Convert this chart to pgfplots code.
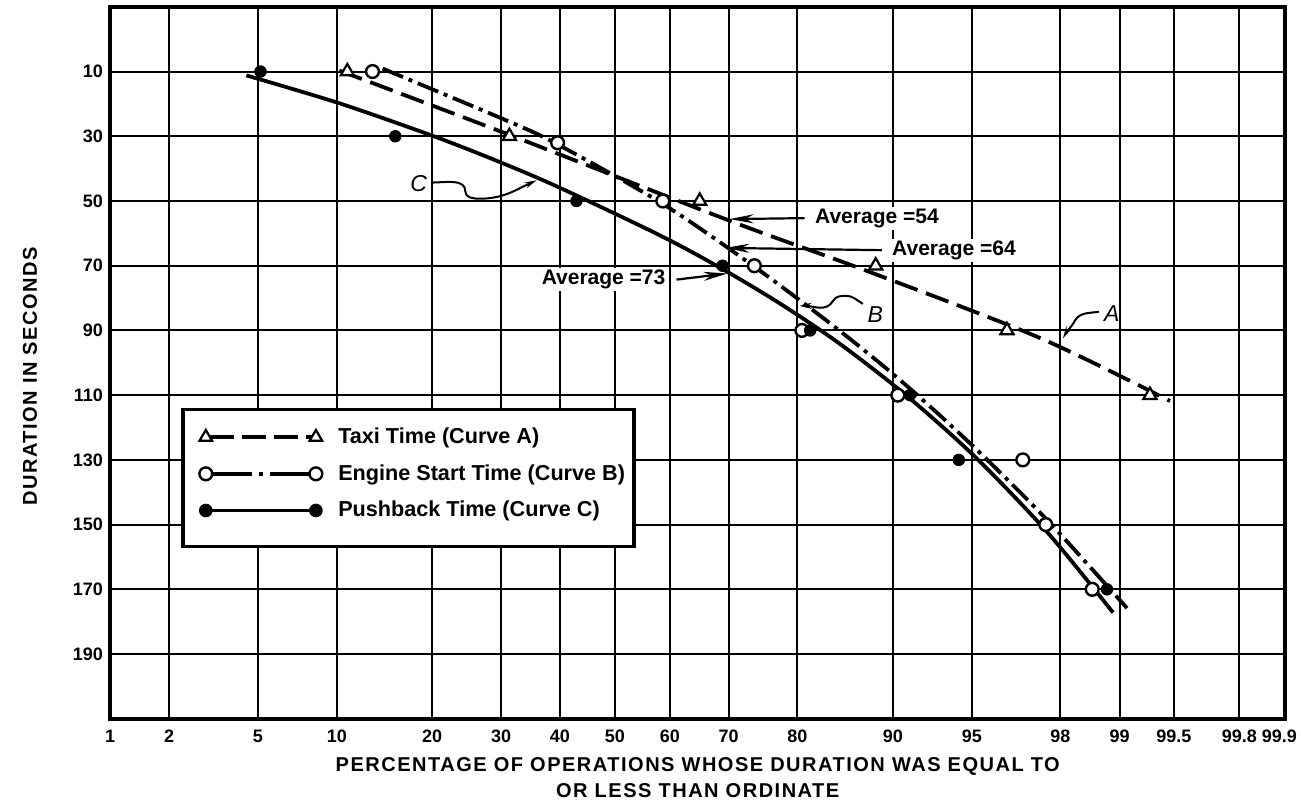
\documentclass[border=0pt]{standalone}
\usepackage{fontspec}
\setmainfont{Liberation Sans}
\newfontfamily\spaced[LetterSpace=7.5]{Liberation Sans}
\usepackage{pgfplots}
\pgfplotsset{compat=1.18}
\usetikzlibrary{arrows.meta}

% x values are normal-probability (probit) positions of the percentages:
% 1% = -2.3263, 50% = 0, 99.9% = 3.0902
\begin{document}
\begin{tikzpicture}
\useasboundingbox (-55pt,-46pt) rectangle (595pt,359.1pt);
\begin{axis}[
  at={(0,0)}, anchor=south west,
  scale only axis, width=587.2pt, height=355.7pt,
  xmin=-2.3263, xmax=3.0902,
  ymin=-10, ymax=210, y dir=reverse,
  xtick={-2.3263,-2.0537,-1.6449,-1.2816,-0.8416,-0.5244,-0.2533,0,0.2533,0.5244,0.8416,1.2816,1.6449,2.0537,2.3263,2.5758,2.8782},
  xticklabels={1,2,5,10,20,30,40,50,60,70,80,90,95,98,99,99.5,99.8},
  extra x ticks={3.0902},
  extra x tick labels={99.9},
  extra x tick style={xticklabel style={xshift=-3pt}},
  ytick={10,30,...,190},
  grid=major,
  major grid style={black, line width=1pt},
  axis line style={line width=2pt},
  major tick length=0pt,
  /pgf/number format/assume math mode=true,
  tick label style={font=\bfseries\fontsize{9}{10}\selectfont},
  xticklabel style={yshift=-2pt},
  xlabel={PERCENTAGE OF OPERATIONS WHOSE DURATION WAS EQUAL TO\\OR LESS THAN ORDINATE},
  xlabel style={at={(axis description cs:0.5,-0.083)}, anchor=center, align=center, font=\spaced\bfseries\fontsize{10}{13}\selectfont},
  ylabel={DURATION IN SECONDS},
  ylabel style={at={(axis description cs:-0.0681,0.481)}, anchor=center, font=\spaced\bfseries\fontsize{10}{13}\selectfont},
  legend style={at={(axis description cs:0.0605,0.4372)}, anchor=north west,
    draw=black, line width=1.8pt, fill=white,
    inner xsep=3.5pt, inner ysep=5pt, row sep=5pt,
    nodes={inner xsep=1pt, inner ysep=2pt},
    font=\bfseries\fontsize{10.8}{13}\selectfont,
    cells={anchor=west},
    /tikz/every odd column/.append style={column sep=7pt}},
]
% ---- curves ----
% Curve A (taxi time)
\addplot[forget plot, line width=1.9pt, dash pattern=on 12pt off 4.5pt, smooth] coordinates {
 (-1.270,9.7) (-0.500,29.2) (0.529,56.1) (1.161,71.6) (1.958,92.3) (2.558,111.8)};
% Curve B (engine start time)
\addplot[forget plot, line width=1.9pt, dash pattern=on 11pt off 3pt on 2pt off 3pt, smooth] coordinates {
 (-1.070,9.1) (-0.500,25.1) (-0.264,32.5) (0.221,50.9) (0.643,70.3) (1.036,90.1) (1.345,107.1) (1.659,126.3) (1.991,148.5) (2.360,175.8)};
% Curve C (pushback time)
\addplot[forget plot, line width=1.9pt, smooth] coordinates {
 (-1.698,11.2) (-1.270,19.8) (-0.822,30.3) (-0.500,38.8) (-0.241,46.3) (0.207,60.6) (0.482,70.5) (0.759,81.6) (1.036,94.1) (1.345,110.2) (1.659,129.0) (1.991,152.2) (2.296,177.2)};
% ---- observed points ----
\addplot[forget plot, only marks, mark=triangle*, mark size=3.8pt, mark options={fill=white, draw=black, line width=1.1pt, solid}] coordinates {
 (-1.233,10) (-0.486,30) (0.391,50) (1.202,70) (1.807,90) (2.466,110)};
\addplot[forget plot, only marks, mark=*, mark size=3.2pt, mark options={fill=white, draw=black, line width=1.2pt, solid}] coordinates {
 (-1.117,10) (-0.264,32) (0.221,50) (0.643,70) (0.862,90) (1.304,110) (1.880,130) (1.986,150) (2.200,170)};
\addplot[forget plot, only marks, mark=*, mark size=2.9pt, mark options={fill=black, draw=black, solid}] coordinates {
 (-1.633,10) (-1.012,30) (-0.177,50) (0.496,70) (0.900,90) (1.360,110) (1.585,130) (2.268,170)};
% ---- legend ----
\addlegendimage{legend image code/.code={
  \path (-7pt,0pt) (0pt,8pt);
  \draw[line width=1.9pt, dash pattern=on 12pt off 4pt] (2pt,0pt) -- (53pt,0pt);
  \draw[line width=1.1pt] plot[only marks, mark=triangle*, mark size=3.6pt, mark options={fill=white, solid}] coordinates {(0pt,0pt) (55pt,0pt)};}}
\addlegendentry{Taxi Time (Curve A)}
\addlegendimage{legend image code/.code={
  \path (-7pt,0pt);
  \draw[line width=1.9pt, dash pattern=on 21pt off 3.5pt on 2pt off 3.5pt] (2pt,0pt) -- (53pt,0pt);
  \draw[line width=1.2pt] plot[only marks, mark=*, mark size=3.2pt, mark options={fill=white, solid}] coordinates {(0pt,0pt) (55pt,0pt)};}}
\addlegendentry{Engine Start Time (Curve B)}
\addlegendimage{legend image code/.code={
  \path (-7pt,0pt) (0pt,-12pt);
  \draw[line width=1.9pt] (0pt,0pt) -- (55pt,0pt);
  \draw[line width=1pt] plot[only marks, mark=*, mark size=2.9pt, mark options={fill=black, solid}] coordinates {(0pt,0pt) (55pt,0pt)};}}
\addlegendentry{Pushback Time (Curve C)}
% ---- annotations ----
\tikzset{avg/.style={font=\bfseries\fontsize{10.5}{12}\selectfont, fill=white, inner sep=1pt},
         arr/.style={line width=1.1pt, -{Stealth[length=12pt,width=4.5pt]}},
         lead/.style={line width=1pt, -{Stealth[length=6pt,width=3pt]}}}
\node[avg, anchor=west] at (axis cs:0.912,55.5) {Average =54};
\draw[arr] (axis cs:0.875,55.3) -- (axis cs:0.529,55.6);
\node[avg, anchor=west] at (axis cs:1.267,65.4) {Average =64};
\draw[arr] (axis cs:1.230,65.2) -- (axis cs:0.509,64.5);
\node[avg, anchor=east] at (axis cs:0.244,74.3) {Average =73};
\draw[arr] (axis cs:0.284,74.3) -- (axis cs:0.519,72.4);
% curve labels
\node[font=\itshape\fontsize{11.5}{12}\selectfont, inner sep=1pt] at (axis cs:-0.904,44.6) {C};
\draw[lead] (axis cs:-0.841,44.3) to[out=0,in=90] (axis cs:-0.689,47.1) to[out=-90,in=180] (axis cs:-0.624,49.3) to[out=0,in=205] (axis cs:-0.361,43.6);
\node[font=\itshape\fontsize{11.5}{12}\selectfont, inner sep=1pt] at (axis cs:1.200,85.2) {B};
\draw[lead] (axis cs:1.143,81.8) to[out=150,in=0] (axis cs:1.065,79.3) to[out=180,in=60] (axis cs:1.005,80.9) to[out=240,in=0] (axis cs:0.851,82.4);
\node[font=\itshape\fontsize{11.5}{12}\selectfont, inner sep=1pt] at (axis cs:2.290,84.8) {A};
\draw[lead] (axis cs:2.231,84.2) to[out=190,in=60] (axis cs:2.120,87.0) to[out=240,in=60] (axis cs:2.065,92.4);
\end{axis}
\end{tikzpicture}
\end{document}
